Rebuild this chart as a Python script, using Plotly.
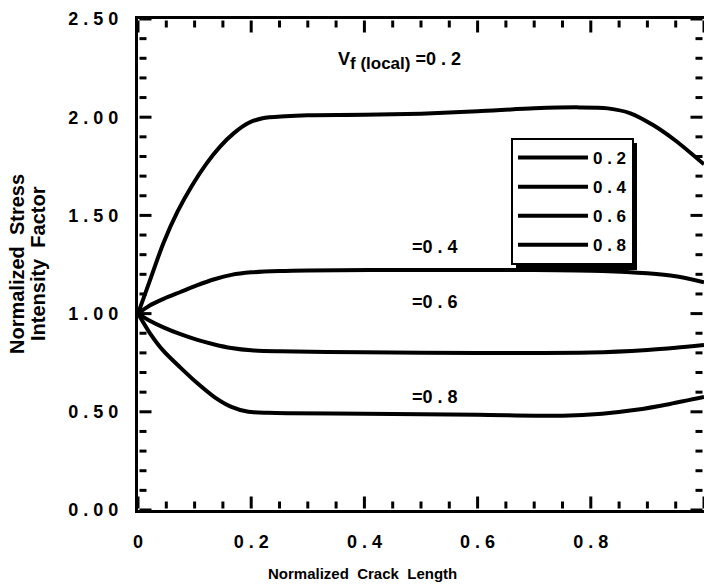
import plotly.graph_objects as go

# ---- data ----
x_02 = [0, 0.02, 0.045, 0.07, 0.095, 0.12, 0.145, 0.17, 0.195, 0.22, 0.26, 0.3, 0.4, 0.5, 0.6, 0.7, 0.78, 0.83, 0.87, 0.91, 0.95, 1.0]
y_02 = [1.0, 1.16, 1.36, 1.52, 1.65, 1.76, 1.85, 1.92, 1.97, 1.995, 2.005, 2.01, 2.012, 2.018, 2.03, 2.045, 2.05, 2.045, 2.02, 1.96, 1.88, 1.76]

x_04 = [0, 0.02, 0.045, 0.075, 0.105, 0.135, 0.165, 0.2, 0.25, 0.3, 0.5, 0.7, 0.82, 0.9, 0.95, 1.0]
y_04 = [1.0, 1.04, 1.075, 1.11, 1.145, 1.175, 1.197, 1.21, 1.217, 1.22, 1.222, 1.222, 1.217, 1.205, 1.19, 1.16]

x_06 = [0, 0.02, 0.045, 0.075, 0.105, 0.135, 0.165, 0.2, 0.25, 0.4, 0.6, 0.8, 0.9, 0.95, 1.0]
y_06 = [1.0, 0.965, 0.93, 0.895, 0.866, 0.843, 0.825, 0.813, 0.808, 0.803, 0.8, 0.802, 0.815, 0.826, 0.84]

x_08 = [0, 0.02, 0.045, 0.075, 0.105, 0.135, 0.165, 0.195, 0.23, 0.27, 0.4, 0.6, 0.75, 0.82, 0.88, 0.94, 1.0]
y_08 = [1.0, 0.905, 0.81, 0.725, 0.645, 0.575, 0.525, 0.5, 0.495, 0.493, 0.49, 0.485, 0.48, 0.49, 0.51, 0.54, 0.575]

# the original type is letter-spaced, so labels are written with spaces between glyphs
series_names = ["0 . 2", "0 . 4", "0 . 6", "0 . 8"]

x_tickvals = [0, 0.2, 0.4, 0.6, 0.8, 1.0]
x_ticktext = ["0", "0 . 2", "0 . 4", "0 . 6", "0 . 8", "1"]
x_minor_tickvals = [0.05, 0.1, 0.15, 0.25, 0.3, 0.35, 0.45, 0.5, 0.55, 0.65, 0.7, 0.75, 0.85, 0.9, 0.95]
y_tickvals = [0, 0.5, 1.0, 1.5, 2.0, 2.5]
y_ticktext = ["0 . 0 0", "0 . 5 0", "1 . 0 0", "1 . 5 0", "2 . 0 0", "2 . 5 0"]
y_minor_tickvals = [0.1, 0.2, 0.3, 0.4, 0.6, 0.7, 0.8, 0.9, 1.1, 1.2, 1.3, 1.4,
                    1.6, 1.7, 1.8, 1.9, 2.1, 2.2, 2.3, 2.4]

curve_labels = ["V<sub><span style='font-size:17px'>f (local)</span></sub> =0 . 2",
                "=0 . 4", "=0 . 6", "=0 . 8"]
curve_label_x = [0.462, 0.525, 0.525, 0.525]
curve_label_y = [2.285, 1.339, 1.059, 0.575]

x_title = "Normalized\u00a0 Crack\u00a0 Length"
y_title_lines = ["Normalized\u00a0 Stress", "Intensity\u00a0 Factor"]

FONT = "Liberation Sans"
BLACK = "#000000"
MAJOR_LEN, MINOR_LEN, TICK_W, LINE_W = 12, 7, 3, 3

fig = go.Figure()
for i, (xs, ys, nm) in enumerate(zip([x_02, x_04, x_06, x_08], [y_02, y_04, y_06, y_08], series_names)):
    fig.add_trace(go.Scatter(
        x=xs, y=ys, name=nm, mode="lines", legendgroup="g%d" % i,
        line=dict(color=BLACK, width=4, shape="spline", smoothing=0.8),
    ))

label_font = dict(family=FONT, size=18, color=BLACK, weight="bold")

fig.update_layout(
    template="none",
    xaxis=dict(range=[0, 1], tickmode="array", tickvals=x_tickvals, ticktext=x_ticktext,
               ticks="", showline=True, linecolor=BLACK, linewidth=LINE_W, mirror=True,
               showgrid=False, zeroline=False, tickfont=label_font, ticklabelstandoff=13),
    yaxis=dict(range=[0, 2.5], tickmode="array", tickvals=y_tickvals, ticktext=y_ticktext,
               ticks="", showline=True, linecolor=BLACK, linewidth=LINE_W, mirror=True,
               showgrid=False, zeroline=False, tickfont=label_font, ticklabelstandoff=13),
)

# inside tick marks on all four sides, placed through the axes' own scales
shapes = []
pad = LINE_W / 2
for vals, ln in ((x_tickvals, MAJOR_LEN), (x_minor_tickvals, MINOR_LEN)):
    for v in vals:
        for anchor, sgn in ((0, 1), (1, -1)):
            shapes.append(dict(type="line", xref="x", x0=v, x1=v,
                               yref="paper", ysizemode="pixel", yanchor=anchor,
                               y0=sgn * pad, y1=sgn * (pad + ln),
                               line=dict(color=BLACK, width=TICK_W), layer="above"))
for vals, ln in ((y_tickvals, MAJOR_LEN), (y_minor_tickvals, MINOR_LEN)):
    for v in vals:
        for anchor, sgn in ((0, 1), (1, -1)):
            shapes.append(dict(type="line", yref="y", y0=v, y1=v,
                               xref="paper", xsizemode="pixel", xanchor=anchor,
                               x0=sgn * pad, x1=sgn * (pad + ln),
                               line=dict(color=BLACK, width=TICK_W), layer="above"))

# legend drop shadow
shapes.append(dict(
    type="rect", xref="paper", yref="paper",
    x0=(516 - 138) / 566, x1=(637 - 138) / 566,
    y0=(510 - 270) / 491, y1=(510 - 143) / 491,
    fillcolor=BLACK, line=dict(width=0), layer="above",
))

annotations = []
for txt, ax, ay in zip(curve_labels, curve_label_x, curve_label_y):
    annotations.append(dict(
        x=ax, y=ay, xref="x", yref="y", text=txt, showarrow=False,
        font=dict(family=FONT, size=18, color=BLACK, weight="bold"),
        xanchor="center", yanchor="middle",
    ))

annotations.append(dict(
    x=(362 - 138) / 566, y=(510 - 573) / 491, xref="paper", yref="paper",
    text=x_title, showarrow=False,
    font=dict(family=FONT, size=15, color=BLACK, weight="bold"),
    xanchor="center", yanchor="middle",
))
for line_txt, px in zip(y_title_lines, [17, 38]):
    annotations.append(dict(
        x=(px - 138) / 566, y=(510 - 264) / 491, xref="paper", yref="paper",
        text=line_txt, showarrow=False, textangle=-90,
        font=dict(family=FONT, size=20, color=BLACK, weight="bold"),
        xanchor="center", yanchor="middle",
    ))

fig.update_layout(
    width=704, height=586,
    margin=dict(l=138, r=0, t=19, b=76),
    paper_bgcolor="white", plot_bgcolor="white",
    showlegend=True,
    legend=dict(
        x=(511 - 138) / 566, y=(510 - 138) / 491, xanchor="left", yanchor="top",
        bgcolor="white", bordercolor=BLACK, borderwidth=2,
        font=dict(family=FONT, size=17, color=BLACK, weight="bold"),
        itemwidth=70, traceorder="grouped", tracegroupgap=4,
    ),
    annotations=annotations,
    shapes=shapes,
)

fig.write_html("out.html")
